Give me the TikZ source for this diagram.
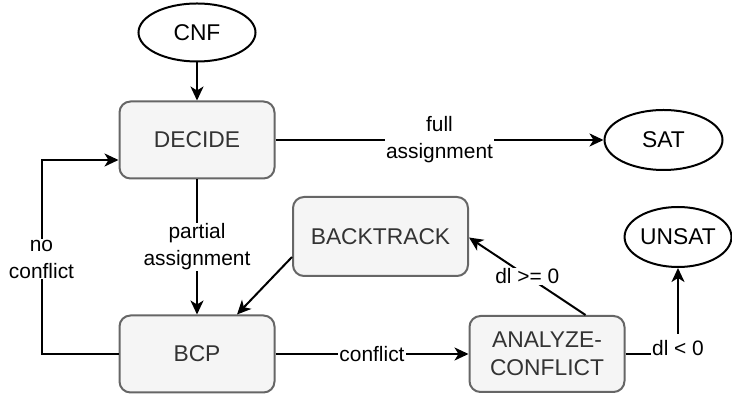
\documentclass[tikz,border=0pt]{standalone}
\usepackage{fontspec}
\setmainfont{Liberation Sans}
\usetikzlibrary{arrows.meta, positioning, shapes.geometric}

\definecolor{boxfill}{HTML}{F5F5F5}
\definecolor{boxline}{HTML}{666666}
\definecolor{boxtext}{HTML}{333333}

\tikzset{
    stepbox/.style={draw=boxline, fill=boxfill, text=boxtext, line width=1pt,
        rounded corners=5.5pt, minimum width=77.5pt, minimum height=38.5pt,
        align=center, font=\fontsize{11.4pt}{14pt}\selectfont, inner sep=0pt},
    endpoint/.style={draw, ellipse, fill=white, line width=1pt, inner sep=0pt,
        minimum width=58.5pt, minimum height=29pt,
        font=\fontsize{11.4pt}{14pt}\selectfont},
    flow/.style={line width=1pt, -{Stealth[length=7pt, width=6.5pt, inset=2pt]}},
    edgelabel/.style={fill=white, align=center, inner sep=0.5pt,
        font=\fontsize{10.45pt}{13.5pt}\selectfont}
}

\begin{document}
\begin{tikzpicture}
    \useasboundingbox (0,0) rectangle (366pt,-197pt);
    % main states
    \node[stepbox] (decide) at (98.5pt,-70pt) {DECIDE};
    \node[endpoint, above=19pt of decide] (cnf) {CNF};
    \node[stepbox, below=67.5pt of decide] (bcp) {BCP};
    \node[endpoint, right=164pt of decide, minimum width=59pt, minimum height=30pt] (sat) {SAT};
    \node[stepbox, right=96.5pt of bcp, minimum height=38pt] (analyze) {ANALYZE-\\CONFLICT};
    \node[stepbox, minimum width=87.5pt, minimum height=39.5pt] (backtrack) at (190.25pt,-118.25pt) {BACKTRACK};
    \node[endpoint, minimum width=53pt, minimum height=30pt] (unsat) at (339pt,-118.5pt) {UNSAT};
    % transitions
    \draw[flow] (cnf) -- (decide);
    \draw[flow] (decide) -- node[edgelabel] {full\\assignment} (sat);
    \draw[flow] (decide) -- node[edgelabel] {partial\\assignment} (bcp);
    \draw[flow] (bcp) -- node[edgelabel] {conflict} (analyze);
    \draw[flow] ([xshift=19.25pt]analyze.north) -- node[edgelabel] {dl >= 0} ([yshift=-0.5pt]backtrack.east);
    \draw[flow] ([yshift=-10.25pt]backtrack.west) -- ([xshift=20pt]bcp.north);
    \draw[flow] (analyze.east) -| node[edgelabel, pos=0.5, yshift=3pt, inner ysep=3pt] {dl < 0} (unsat.south);
    \draw[flow] (bcp.west) -- ++(-38.5pt,0) coordinate (loopcorner)
        |- node[edgelabel, pos=0.25, yshift=-1pt] {no\\conflict} ([yshift=-10pt]decide.west);
\end{tikzpicture}
\end{document}
